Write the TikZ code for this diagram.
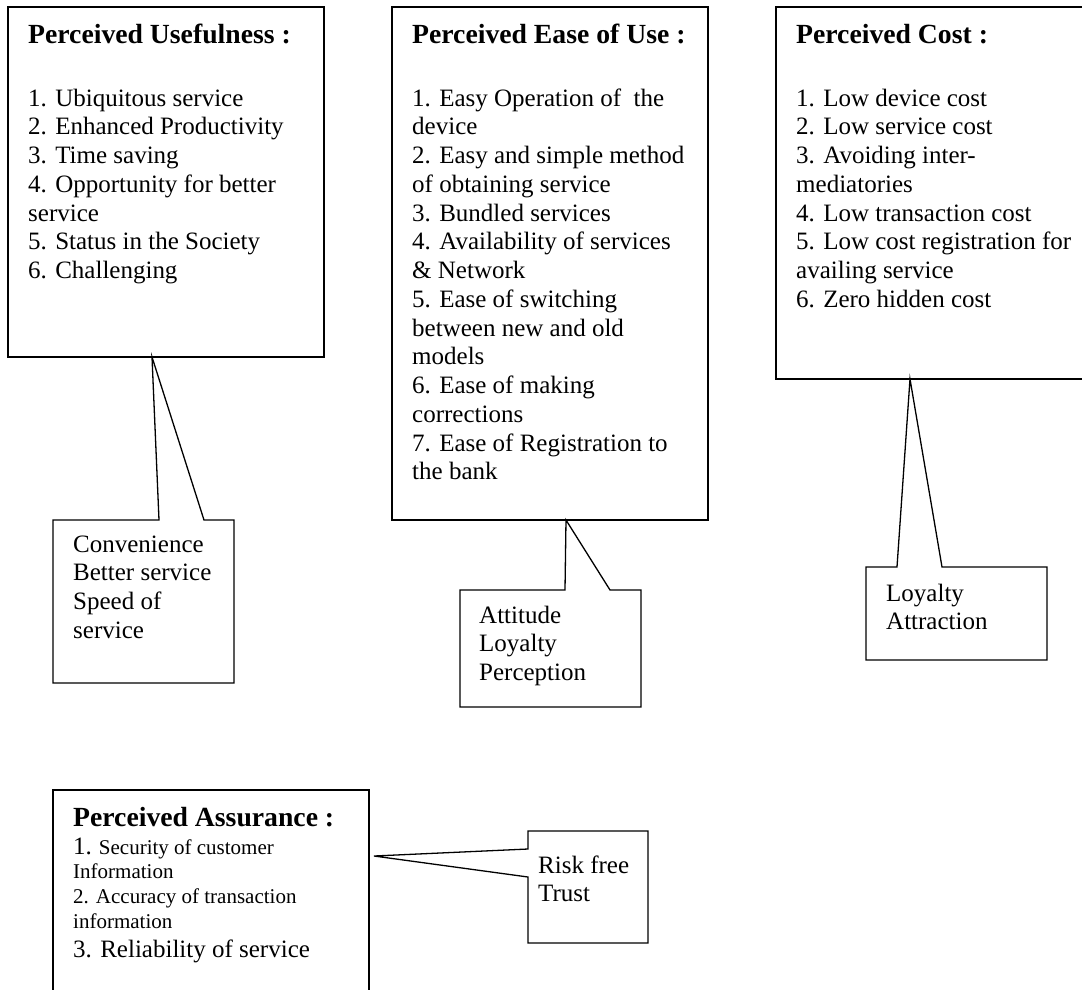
\documentclass[tikz,border=0pt]{standalone}
\usepackage{fontspec}
\setmainfont{Liberation Serif}
\usetikzlibrary{calc}
% left-aligned stack of lines whose baseline is the first line
\newcommand{\rows}[1]{\begin{tabular}[t]{@{}l@{}}#1\end{tabular}}
\tikzset{
  frame/.style={rectangle, draw=black, fill=white, line width=1.3pt,
    inner sep=0pt, outer sep=0pt, anchor=north west},
  calloutbox/.style={rectangle, inner sep=0pt, outer sep=0pt, anchor=north west},
  outline/.style={draw=black, fill=white, line width=1.3pt, line join=miter},
  head/.style={anchor=base west, inner sep=0pt, font=\fontsize{27.7}{32}\selectfont\bfseries},
  body/.style={anchor=base west, inner sep=0pt, font=\fontsize{25}{28.75}\selectfont},
  small/.style={anchor=base west, inner sep=0pt, font=\fontsize{21}{24.5}\selectfont},
}
\begin{document}
\begin{tikzpicture}[x=1pt,y=-1pt]
\useasboundingbox[fill=white] (0,0) rectangle (1082,989);
\begin{scope}
\clip (0,0) rectangle (1082,989);

% ---- factor boxes ----
\node[frame, minimum width=316pt, minimum height=350pt] (pu) at (8,7) {};
\node[head] (puh) at (28,43) {Perceived Usefulness :};
\node[body] (pub) at (28,106) {\rows{1. Ubiquitous service\\2. Enhanced Productivity\\3. Time saving\\4. Opportunity for better\\service\\5. Status in the Society\\6. Challenging}};

\node[frame, minimum width=316pt, minimum height=513pt] (pe) at (392,7) {};
\node[head] (peh) at (412,43) {Perceived Ease of Use :};
\node[body] (peb) at (412,106) {\rows{1. Easy Operation of\ \ the\\device\\2. Easy and simple method\\of obtaining service\\3. Bundled services\\4. Availability of services\\\& Network\\5. Ease of switching\\between new and old\\models\\6. Ease of making\\corrections\\7. Ease of Registration to\\the bank}};

\node[frame, minimum width=316pt, minimum height=372pt] (pc) at (776,7) {};
\node[head] (pch) at (796,43) {Perceived Cost :};
\node[body] (pcb) at (796,106) {\rows{1. Low device cost\\2. Low service cost\\3. Avoiding inter-\\mediatories\\4. Low transaction cost\\5. Low cost registration for\\availing service\\6. Zero hidden cost}};

\node[frame, minimum width=316pt, minimum height=230pt] (pa) at (53,790) {};
\node[head] (pah) at (73,826) {Perceived Assurance :};
\node[small] (pa1) at (73,854) {{\fontsize{25}{28.75}\selectfont 1.} Security of customer};
\node[small] (pa2) at (73,878) {Information};
\node[small] (pa3) at (73,903) {2. Accuracy of transaction};
\node[small] (pa4) at (73,928) {information};
\node[body]  (pa5) at (73,957) {3. Reliability of service};

% ---- pointer tips on the factor boxes ----
\coordinate (tu) at (152,357);
\coordinate (te) at (566,520);
\coordinate (tc) at (910,379);
\coordinate (ta) at (374,856);

% ---- callouts ----
\node[calloutbox, minimum width=181pt, minimum height=163pt] (cu) at (53,520) {};
\draw[outline] (cu.north west) -- ($(cu.north west)+(106,0)$) -- (tu)
  -- ($(cu.north west)+(151,0)$) -- (cu.north east) -- (cu.south east)
  -- (cu.south west) -- cycle;
\node[body] (cut) at (73,552) {\rows{Convenience\\Better service\\Speed of\\service}};

\node[calloutbox, minimum width=181pt, minimum height=117pt] (ce) at (460,590) {};
\draw[outline] (ce.north west) -- ($(ce.north west)+(105,0)$) -- (te)
  -- ($(ce.north west)+(150,0)$) -- (ce.north east) -- (ce.south east)
  -- (ce.south west) -- cycle;
\node[body] (cet) at (479,623) {\rows{Attitude\\Loyalty\\Perception}};

\node[calloutbox, minimum width=181pt, minimum height=93pt] (cc) at (866,567) {};
\draw[outline] (cc.north west) -- ($(cc.north west)+(31,0)$) -- (tc)
  -- ($(cc.north west)+(76,0)$) -- (cc.north east) -- (cc.south east)
  -- (cc.south west) -- cycle;
\node[body] (cct) at (886,601) {\rows{Loyalty\\Attraction}};

\node[calloutbox, minimum width=120pt, minimum height=112pt] (cr) at (528,831) {};
\draw[outline] (cr.north west) -- (cr.north east) -- (cr.south east)
  -- (cr.south west) -- ($(cr.north west)+(0,46)$) -- (ta)
  -- ($(cr.north west)+(0,18)$) -- cycle;
\node[body] (crt) at (538,873) {\rows{Risk free\\Trust}};
\end{scope}
\end{tikzpicture}
\end{document}
